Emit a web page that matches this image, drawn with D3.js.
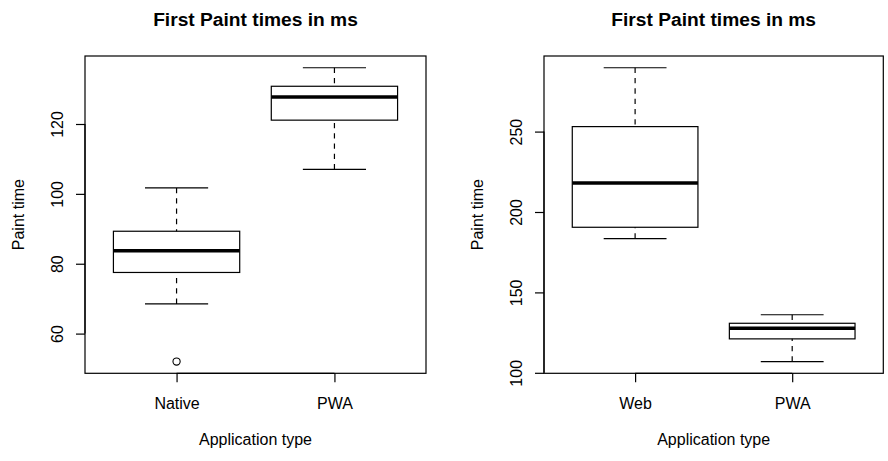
<!DOCTYPE html>
<html>
  <head>
    <meta charset="utf-8">
    <title>First Paint times</title>
    <style>
      body { margin: 0; background: #fff; }
      text { font-family: "Liberation Sans", Arial, sans-serif; fill: #000; }
    </style>
  </head>
  <body>
    <div id="chart"></div>
    <script src="https://d3js.org/d3.v7.min.js"></script>
    <script>
      // categories per panel
      const leftCategories = ['Native', 'PWA'];
      const rightCategories = ['Web', 'PWA'];

      // lower whisker, Q1, median, Q3, upper whisker
      const nativeStats = [68.5, 77.5, 83.7, 89.3, 101.7];
      const pwaStats = [107.0, 121.1, 127.7, 130.8, 136.1];
      const webStats = [183.5, 190.5, 218.0, 253.1, 289.7];

      const nativeOutliers = [52.0];
      const pwaOutliers = [];
      const webOutliers = [];

      const leftTicks = [60, 80, 100, 120];
      const rightTicks = [100, 150, 200, 250];

      const width = 888, height = 461;
      const plotTop = 56, plotBottom = 373.3;

      const svg = d3.select('#chart').append('svg')
        .attr('width', width)
        .attr('height', height);

      const panels = [
        {cats: leftCategories, stats: [nativeStats, pwaStats], out: [nativeOutliers, pwaOutliers],
         ticks: leftTicks, left: 85, right: 426},
        {cats: rightCategories, stats: [webStats, pwaStats], out: [webOutliers, pwaOutliers],
         ticks: rightTicks, left: 544, right: 883.3}
      ];

      panels.forEach(p => {
        let g = svg.append('g');

        // R style 4% extension of the data range
        let all = p.stats.flat().concat(p.out.flat());
        let lo = d3.min(all), hi = d3.max(all);
        let pad = (hi - lo) * 0.04;

        let y = d3.scaleLinear()
          .domain([lo - pad, hi + pad])
          .range([plotBottom, plotTop]);

        let x = d3.scaleLinear()
          .domain([0.42, p.cats.length + 0.58])
          .range([p.left, p.right]);

        let hw = x(1.4) - x(1);
        let sw = x(1.2) - x(1);

        // frame
        g.append('rect')
          .attr('x', p.left)
          .attr('y', plotTop)
          .attr('width', p.right - p.left)
          .attr('height', plotBottom - plotTop)
          .attr('fill', 'none')
          .attr('stroke', '#000')
          .attr('stroke-width', 1.2);

        // y axis
        let yAxis = g.append('g')
          .attr('transform', `translate(${p.left},0)`)
          .call(d3.axisLeft(y).tickValues(p.ticks).tickSize(9).tickSizeOuter(0));
        yAxis.select('.domain').remove();
        yAxis.append('line')
          .attr('y1', y(p.ticks[0]))
          .attr('y2', y(p.ticks[p.ticks.length - 1]))
          .attr('stroke', '#000')
          .attr('stroke-width', 1.2);
        yAxis.selectAll('.tick line').attr('stroke-width', 1.2);
        yAxis.selectAll('.tick text')
          .attr('x', null)
          .attr('dy', null)
          .attr('text-anchor', 'middle')
          .attr('transform', 'translate(-22,0) rotate(-90)')
          .style('font-size', '16px')
          .style('font-family', '"Liberation Sans", Arial, sans-serif')
          .attr('fill', '#000');

        // x axis
        let xAxis = g.append('g')
          .attr('transform', `translate(0,${plotBottom})`)
          .call(d3.axisBottom(x).tickValues(d3.range(1, p.cats.length + 1))
            .tickFormat(i => p.cats[i - 1]).tickSize(9).tickSizeOuter(0));
        xAxis.select('.domain').remove();
        xAxis.append('line')
          .attr('x1', x(1))
          .attr('x2', x(p.cats.length))
          .attr('stroke', '#000')
          .attr('stroke-width', 1.2);
        xAxis.selectAll('.tick line').attr('stroke-width', 1.2);
        xAxis.selectAll('.tick text')
          .attr('y', 35.7)
          .attr('dy', null)
          .style('font-size', '16px')
          .style('font-family', '"Liberation Sans", Arial, sans-serif')
          .attr('fill', '#000');

        // boxes
        p.stats.forEach((s, i) => {
          let cx = x(i + 1);
          let b = g.append('g');

          // whiskers, dashed from the staple to the box
          [[s[0], s[1]], [s[4], s[3]]].forEach(w => {
            b.append('line')
              .attr('x1', cx).attr('x2', cx)
              .attr('y1', y(w[0])).attr('y2', y(w[1]))
              .attr('stroke', '#000')
              .attr('stroke-width', 1.2)
              .attr('stroke-dasharray', '5.3,5');
          });

          // staples
          [s[0], s[4]].forEach(v => {
            b.append('line')
              .attr('x1', cx - sw).attr('x2', cx + sw)
              .attr('y1', y(v)).attr('y2', y(v))
              .attr('stroke', '#000')
              .attr('stroke-width', 1.2);
          });

          b.append('rect')
            .attr('x', cx - hw)
            .attr('y', y(s[3]))
            .attr('width', hw * 2)
            .attr('height', y(s[1]) - y(s[3]))
            .attr('fill', 'none')
            .attr('stroke', '#000')
            .attr('stroke-width', 1.2);

          b.append('line')
            .attr('x1', cx - hw).attr('x2', cx + hw)
            .attr('y1', y(s[2])).attr('y2', y(s[2]))
            .attr('stroke', '#000')
            .attr('stroke-width', 3.5);

          p.out[i].forEach(v => {
            b.append('circle')
              .attr('cx', cx)
              .attr('cy', y(v))
              .attr('r', 3.6)
              .attr('fill', 'none')
              .attr('stroke', '#000')
              .attr('stroke-width', 1.1);
          });
        });

        let mid = (p.left + p.right) / 2;

        g.append('text')
          .attr('x', mid)
          .attr('y', 26)
          .attr('text-anchor', 'middle')
          .style('font-size', '19.2px')
          .style('font-weight', 'bold')
          .text('First Paint times in ms');

        g.append('text')
          .attr('x', mid)
          .attr('y', 445)
          .attr('text-anchor', 'middle')
          .style('font-size', '16px')
          .text('Application type');

        g.append('text')
          .attr('transform', `translate(${p.left - 61},${(plotTop + plotBottom) / 2}) rotate(-90)`)
          .attr('text-anchor', 'middle')
          .style('font-size', '16px')
          .text('Paint time');
      });
    </script>
  </body>
</html>
